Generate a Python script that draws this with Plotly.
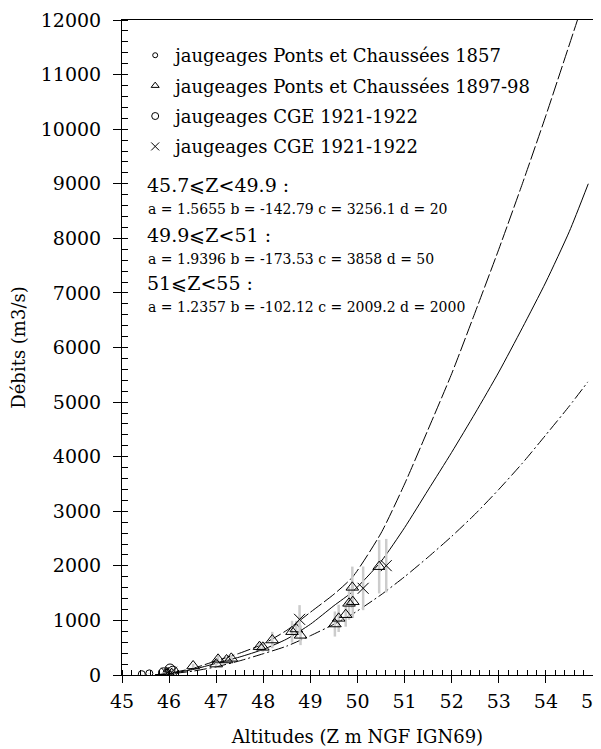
import plotly.graph_objects as go

# --- rating curves (Z in m NGF, Q in m3/s)
z_up = [45.7, 46.0, 46.5, 47.0, 47.5, 48.0, 48.5, 49.0, 49.5, 49.9, 50.5, 51.0,
        51.5, 52.0, 52.5, 53.0, 53.5, 54.0, 54.67]
q_up = [0, 35, 120, 260, 400, 570, 820, 1150, 1480, 1800, 2600, 3500,
        4500, 5520, 6650, 7800, 9000, 10250, 12000]

z_mid = [45.7, 46.0, 46.5, 47.0, 47.5, 48.0, 48.5, 49.0, 49.5, 49.9, 50.5,
         51.0, 51.5, 52.0, 52.5, 53.0, 53.5, 54.0, 54.5, 54.9]
q_mid = [0, 25, 100, 214, 330, 470, 660, 930, 1270, 1530, 2080,
         2700, 3390, 4080, 4800, 5550, 6360, 7200, 8130, 9000]

z_low = [45.7, 46.0, 46.5, 47.0, 47.5, 48.0, 48.5, 49.0, 49.5, 49.9, 50.5, 51.0,
         51.5, 52.0, 52.5, 53.0, 53.5, 54.0, 54.5, 54.89]
q_low = [0, 20, 70, 150, 260, 390, 530, 720, 930, 1120, 1470, 1800,
         2160, 2540, 2950, 3400, 3880, 4400, 4930, 5370]

# --- gaugings
z_pc1857 = [45.42, 45.58, 45.95, 46.02]
q_pc1857 = [15, 30, 45, 60]
e_pc1857 = [5, 5, 8, 10]

z_pc1897 = [45.98, 46.51, 47.0, 47.04, 47.22, 47.32, 47.92, 47.99, 48.19, 48.61,
            48.70, 48.79, 49.52, 49.60, 49.75, 49.82, 49.90, 49.89, 50.46]
q_pc1897 = [40, 165, 200, 287, 275, 305, 519, 507, 641, 794,
            843, 727, 934, 1038, 1105, 1313, 1343, 1606, 1985]
e_pc1897 = [10, 40, 50, 70, 60, 60, 80, 80, 150, 200,
            150, 180, 230, 250, 220, 300, 300, 380, 490]

z_cge_o = [45.88, 46.02, 46.08]
q_cge_o = [40, 110, 70]
e_cge_o = [10, 25, 15]

z_cge_x = [45.95, 46.05, 48.77, 50.12, 50.61]
q_cge_x = [30, 50, 1020, 1588, 2003]
e_cge_x = [10, 15, 260, 400, 490]

legend_names = ["jaugeages Ponts et Chaussées 1857",
                "jaugeages Ponts et Chaussées 1897-98",
                "jaugeages CGE 1921-1922",
                "jaugeages CGE 1921-1922"]

SERIF = "DejaVu Serif"
GREY = "#cccccc"

fig = go.Figure()

curve = dict(color="black", width=1, shape="spline", smoothing=0.6)
fig.add_trace(go.Scatter(x=z_up, y=q_up, mode="lines", showlegend=False,
                         line=dict(curve, dash="14px,3px")))
fig.add_trace(go.Scatter(x=z_mid, y=q_mid, mode="lines", showlegend=False,
                         line=curve))
fig.add_trace(go.Scatter(x=z_low, y=q_low, mode="lines", showlegend=False,
                         line=dict(curve, dash="12px,3px,2px,3px")))


def gauging(x, y, err, symbol, size):
    return go.Scatter(
        x=x, y=y, mode="markers", showlegend=False,
        marker=dict(symbol=symbol, size=size, color="black", line=dict(color="black", width=1)),
        error_y=dict(type="data", array=err, color=GREY, thickness=2.5, width=0),
    )


fig.add_trace(gauging(z_pc1857, q_pc1857, e_pc1857, "circle-open", 7))
fig.add_trace(gauging(z_pc1897, q_pc1897, e_pc1897, "triangle-up-open", 11))
fig.add_trace(gauging(z_cge_o, q_cge_o, e_cge_o, "circle-open", 10))
fig.add_trace(gauging(z_cge_x, q_cge_x, e_cge_x, "x-thin-open", 11))

# legend entries use the small symbols of the original key
for i, (name, symbol, size) in enumerate(zip(
        legend_names,
        ["circle-open", "triangle-up-open", "circle-open", "x-thin-open"],
        [5, 7, 7, 8])):
    fig.add_trace(go.Scatter(x=[None], y=[None], mode="markers", name=name,
                             legendgroup=f"g{i}",
                             marker=dict(symbol=symbol, size=size, color="black",
                                         line=dict(color="black", width=1))))

formulas = [
    ("45.7⩽Z<49.9 :", 19, 0.049, 0.748),
    ("a = 1.5655 b = -142.79 c = 3256.1 d = 20", 14, 0.051, 0.711),
    ("49.9⩽Z<51 :", 19, 0.049, 0.672),
    ("a = 1.9396 b = -173.53 c = 3858 d = 50", 14, 0.051, 0.635),
    ("51⩽Z<55 :", 19, 0.049, 0.598),
    ("a = 1.2357 b = -102.12 c = 2009.2 d = 2000", 14, 0.051, 0.562),
]
for text, size, x, y in formulas:
    fig.add_annotation(text=text, xref="paper", yref="paper", x=x, y=y,
                       xanchor="left", yanchor="middle", showarrow=False,
                       font=dict(family=SERIF, size=size, color="black"))

# the page body adds 8px around the figure; the figure runs a little past the
# right edge of the window so the last tick label is cut like in the original
fig.update_layout(
    width=601, height=741,
    margin=dict(l=114, r=16, t=12, b=74),
    plot_bgcolor="white", paper_bgcolor="white",
    font=dict(family=SERIF, size=19, color="black"),
    legend=dict(x=0.028, y=0.974, xanchor="left", yanchor="top",
                font=dict(family=SERIF, size=18), tracegroupgap=4,
                bgcolor="rgba(0,0,0,0)"),
    xaxis=dict(range=[45, 55], dtick=1, showgrid=False, zeroline=False, automargin=False,
               showline=True, linecolor="black", linewidth=1, mirror=True,
               ticks="outside", ticklen=7, tickcolor="black", ticklabelstandoff=2,
               ticklabeloverflow="allow", tickfont=dict(size=19),
               minor=dict(dtick=0.2, ticks="inside", ticklen=5, tickcolor="black"),
               title=dict(text="Altitudes (Z m NGF IGN69)", font=dict(size=18), standoff=19)),
    yaxis=dict(range=[0, 12000], dtick=1000, tickformat="d", showgrid=False, zeroline=False,
               automargin=False,
               showline=True, linecolor="black", linewidth=1, mirror=True,
               ticks="outside", ticklen=8, tickcolor="black", ticklabelstandoff=8,
               tickfont=dict(size=19),
               minor=dict(dtick=200, ticks="inside", ticklen=6, tickcolor="black"),
               title=dict(text="Débits (m3/s)", font=dict(size=18), standoff=16)),
    xaxis2=dict(range=[45, 55], dtick=1, overlaying="x", anchor="y", side="bottom",
                showgrid=False, zeroline=False, showline=False, showticklabels=False,
                automargin=False, ticks="inside", ticklen=6, tickcolor="black"),
    yaxis2=dict(range=[0, 12000], dtick=1000, overlaying="y", anchor="x", side="left",
                showgrid=False, zeroline=False, showline=False, showticklabels=False,
                automargin=False, ticks="inside", ticklen=6, tickcolor="black"),
)

fig.write_html("out.html")
